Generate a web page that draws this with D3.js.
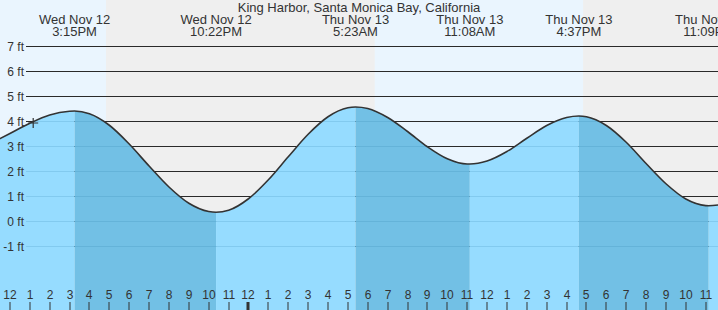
<!DOCTYPE html>
<html><head><meta charset="utf-8">
<script src="https://cdn.jsdelivr.net/npm/d3@7"></script>
<style>
html,body{margin:0;padding:0;background:#fff;}
svg{display:block;font-family:"Liberation Sans",Arial,sans-serif;}
</style></head>
<body><svg id="c" width="718" height="310"></svg>
<script>
// hours since Wed Nov 12 00:00 (local)
const tideHours   = [11, 12, 13, 14, 15, 15.25, 16, 17, 18, 19, 20, 21, 22, 22.367, 23, 24, 25, 26, 27, 28, 29, 29.383, 30, 31, 32, 33, 34, 35, 35.133, 36, 37, 38, 39, 40, 40.617, 41, 42, 43, 44, 45, 46, 47, 47.15, 48];
const tideHeights = [3.09, 3.50, 3.91, 4.24, 4.39, 4.40, 4.29, 3.83, 3.08, 2.20, 1.36, 0.71, 0.38, 0.35, 0.43, 0.89, 1.65, 2.57, 3.47, 4.17, 4.53, 4.56, 4.50, 4.14, 3.58, 2.97, 2.49, 2.28, 2.28, 2.40, 2.78, 3.31, 3.82, 4.14, 4.20, 4.17, 3.82, 3.15, 2.30, 1.49, 0.88, 0.615, 0.61, 0.68];

const extremeHours = [15.25, 22.367, 29.383, 35.133, 40.617, 47.15];
const extremeDays  = ["Wed Nov 12", "Wed Nov 12", "Thu Nov 13", "Thu Nov 13", "Thu Nov 13", "Thu Nov 13"];
const extremeTimes = ["3:15PM", "10:22PM", "5:23AM", "11:08AM", "4:37PM", "11:09PM"];

// daylight periods (hours since Nov 12 00:00)
const dayStarts = [6.35, 30.35];
const dayEnds   = [16.83, 40.83];

const yTicks = [7, 6, 5, 4, 3, 2, 1, 0, -1];
const hourTicks = d3.range(12, 48);   // noon Wed .. 11 PM Thu

const nowHour = 13.17, nowHeight = 3.92;
const title = "King Harbor, Santa Monica Bay, California";

const W = 718, H = 310;
const svg = d3.select("#c");
const x = d3.scaleLinear().domain([11.5, 47.617]).range([0, W]);
const y = d3.scaleLinear().domain([0, 7]).range([221, 46]);
const [t0, t1] = x.domain();

// night background then day
svg.append("rect").attr("width", W).attr("height", H).attr("fill", "#efefef");
svg.selectAll("rect.day").data(dayStarts).join("rect").attr("class", "day")
  .attr("x", (d, i) => x(Math.max(d, t0 - 1)))
  .attr("width", (d, i) => x(dayEnds[i]) - x(Math.max(d, t0 - 1)))
  .attr("y", 0).attr("height", H).attr("fill", "#eaf5fe");

// grid lines (dark)
svg.selectAll("line.grid").data(yTicks).join("line").attr("class", "grid")
  .attr("x1", 26).attr("x2", W).attr("y1", d => Math.round(y(d)) + 0.5).attr("y2", d => Math.round(y(d)) + 0.5)
  .attr("stroke", "#2a2a2a").attr("stroke-width", 1);

// water
const pts = tideHours.map((h, i) => [h, tideHeights[i]]);
const area = d3.area().x(d => x(d[0])).y0(H).y1(d => y(d[1])).curve(d3.curveMonotoneX);
const line = d3.line().x(d => x(d[0])).y(d => y(d[1])).curve(d3.curveMonotoneX);
const defs = svg.append("defs");
defs.append("clipPath").attr("id", "water").append("path").attr("d", area(pts));

const bounds = [t0 - 1, ...extremeHours, t1 + 1];
const wg = svg.append("g").attr("clip-path", "url(#water)");
for (let i = 0; i < bounds.length - 1; i++) {
  wg.append("rect").attr("x", x(bounds[i])).attr("width", x(bounds[i + 1]) - x(bounds[i]))
    .attr("y", 0).attr("height", H).attr("fill", i % 2 === 0 ? "#96dcff" : "#72c0e5");
}
wg.selectAll("line.wgrid").data(yTicks).join("line").attr("class", "wgrid")
  .attr("x1", 26).attr("x2", W).attr("y1", d => Math.round(y(d)) + 0.5).attr("y2", d => Math.round(y(d)) + 0.5)
  .attr("stroke", "#1e6e9e").attr("stroke-opacity", 0.16);

svg.append("path").attr("d", line(pts)).attr("fill", "none").attr("stroke", "#333").attr("stroke-width", 1.6);

// y labels
svg.selectAll("text.yl").data(yTicks).join("text").attr("class", "yl")
  .attr("x", 24).attr("y", d => y(d) + 4.5).attr("text-anchor", "end")
  .attr("font-size", 12).attr("fill", "#333").text(d => d + " ft");

// now marker
svg.append("path").attr("d", `M${x(nowHour) - 5},${y(nowHeight)}h10M${x(nowHour)},${y(nowHeight) - 5}v10`)
  .attr("stroke", "#333").attr("stroke-width", 1.2);

// title and extreme labels
svg.append("text").attr("x", 359).attr("y", 12).attr("text-anchor", "middle")
  .attr("font-size", 13).attr("fill", "#333").text(title);
const eg = svg.selectAll("g.ext").data(extremeHours).join("g").attr("class", "ext")
  .attr("transform", d => `translate(${x(d)},0)`);
eg.append("text").attr("y", 24).attr("text-anchor", "middle").attr("font-size", 13).attr("fill", "#333")
  .text((d, i) => extremeDays[i]);
eg.append("text").attr("y", 36).attr("text-anchor", "middle").attr("font-size", 13).attr("fill", "#333")
  .text((d, i) => extremeTimes[i]);

// x axis hours
const xg = svg.selectAll("g.xt").data(hourTicks).join("g").attr("class", "xt")
  .attr("transform", d => `translate(${Math.round(x(d)) },0)`);
xg.append("rect").attr("x", d => d % 24 === 0 ? -1.5 : -0.5).attr("width", d => d % 24 === 0 ? 3 : 1)
  .attr("y", 302).attr("height", 8).attr("fill", "#333");
xg.append("text").attr("y", 299).attr("text-anchor", "middle").attr("font-size", 12).attr("fill", "#333")
  .text(d => (d % 12) || 12);
</script></body></html>
